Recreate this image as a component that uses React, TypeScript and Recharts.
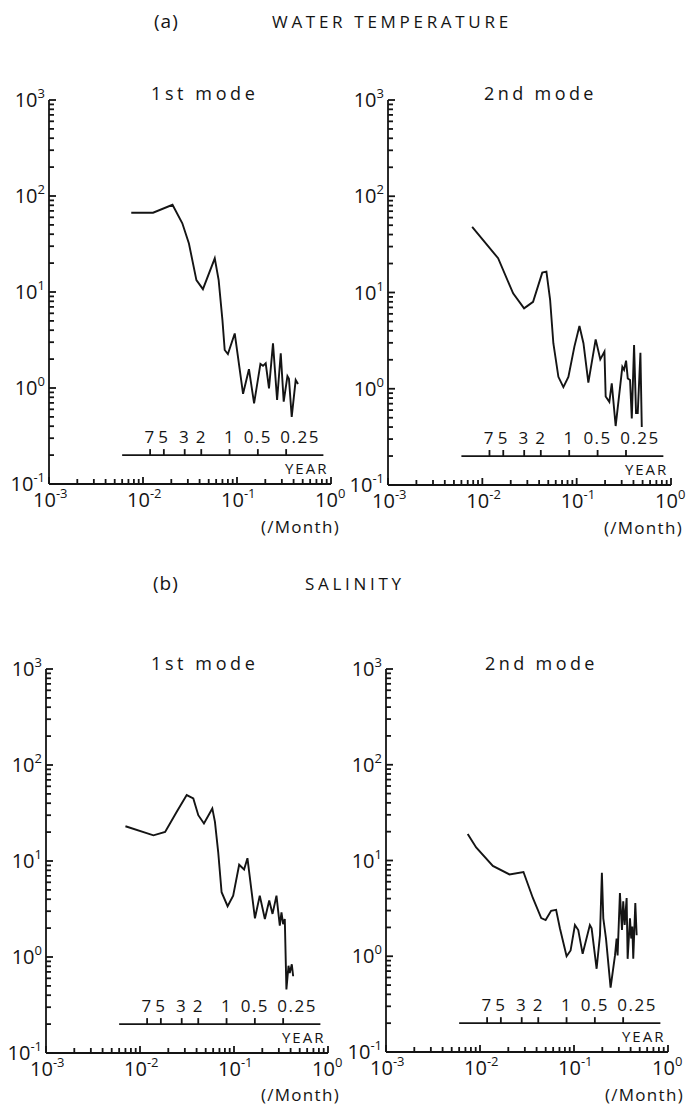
import React from 'react'
import { ComposedChart, Line, Scatter, XAxis, YAxis, ReferenceLine } from 'recharts'

const INK = '#141414'
const FONT = '"Open Sans", "Liberation Sans", sans-serif'

// spectra: frequency (/month) vs spectral density
const tempMode1Freq = [0.0075, 0.0128, 0.0206, 0.0262, 0.0308, 0.037, 0.0434, 0.058, 0.0638, 0.07, 0.074, 0.08, 0.0946, 0.116, 0.134, 0.152, 0.1775, 0.189, 0.202, 0.219, 0.2415, 0.267, 0.292, 0.314, 0.344, 0.357, 0.382, 0.421, 0.446]
const tempMode1Power = [67, 67, 81, 52, 32, 13.3, 10.7, 22.4, 13.3, 5.1, 2.49, 2.26, 3.7, 0.87, 1.57, 0.69, 1.78, 1.7, 1.81, 0.99, 2.92, 0.75, 2.3, 0.72, 1.33, 1.25, 0.5, 1.21, 1.1]

const tempMode2Freq = [0.0078, 0.0147, 0.0212, 0.0277, 0.0345, 0.0432, 0.0478, 0.0523, 0.0566, 0.064, 0.0723, 0.0817, 0.0946, 0.107, 0.118, 0.133, 0.159, 0.178, 0.197, 0.203, 0.222, 0.2355, 0.259, 0.305, 0.318, 0.334, 0.348, 0.368, 0.384, 0.406, 0.426, 0.444, 0.474, 0.49]
const tempMode2Power = [48, 22.7, 9.8, 6.85, 8.0, 16.1, 16.5, 8.4, 2.97, 1.33, 1.04, 1.33, 2.74, 4.49, 2.97, 1.16, 3.26, 2.02, 2.43, 0.83, 0.73, 1.14, 0.41, 1.69, 1.57, 1.96, 1.28, 1.23, 0.49, 2.85, 0.56, 0.56, 2.37, 0.4]

const salMode1Freq = [0.007, 0.0139, 0.0185, 0.0246, 0.0314, 0.0369, 0.0417, 0.0479, 0.0588, 0.0627, 0.0679, 0.0738, 0.0855, 0.098, 0.1135, 0.128, 0.139, 0.167, 0.188, 0.213, 0.237, 0.257, 0.283, 0.307, 0.32, 0.333, 0.347, 0.361, 0.38, 0.392, 0.412, 0.426]
const salMode1Power = [23, 18.5, 20.1, 32.6, 48.6, 44.9, 30, 24.6, 35.3, 25.6, 12.4, 4.73, 3.38, 4.36, 9.15, 8.17, 10.7, 2.53, 4.36, 2.49, 3.87, 2.81, 4.36, 2.12, 2.92, 2.2, 2.49, 0.46, 0.81, 0.68, 0.84, 0.63]

const salMode2Freq = [0.0074, 0.0091, 0.0137, 0.0206, 0.029, 0.0365, 0.0448, 0.0499, 0.0571, 0.0645, 0.0708, 0.0834, 0.092, 0.1023, 0.111, 0.1236, 0.1475, 0.154, 0.174, 0.189, 0.198, 0.205, 0.219, 0.245, 0.273, 0.284, 0.291, 0.308, 0.324, 0.334, 0.346, 0.363, 0.372, 0.394, 0.406, 0.417, 0.427, 0.449, 0.464]
const salMode2Power = [18.9, 13.7, 8.77, 7.15, 7.58, 4.06, 2.5, 2.39, 2.98, 3.05, 1.96, 1.0, 1.15, 2.12, 1.88, 1.06, 2.12, 1.96, 0.74, 1.66, 7.45, 2.49, 1.53, 0.47, 1.02, 1.53, 1.02, 4.58, 1.88, 3.74, 2.12, 4.06, 0.94, 2.49, 1.53, 2.04, 0.94, 3.59, 1.66]

// axes: decades get a label, steps 2..9 only a short mark
const xDecades = [-3, -2, -1, 0]
const yDecades = [-1, 0, 1, 2, 3]
const minorSteps = [2, 3, 4, 5, 6, 7, 8, 9]

// period scale drawn inside each panel
const yearPeriods = [7, 5, 3, 2, 1, 0.5, 0.25]
const yearLabels = ['7', '5', '3', '2', '1', '0.5', '0.25']
const yearLineLevel = 0.2
const yearLineSpan = [0.006, 0.83]

const logTicks = (decades: number[]) => {
  const out: number[] = []
  decades.forEach((d, i) => {
    out.push(Math.pow(10, d))
    if (i < decades.length - 1) minorSteps.forEach(m => out.push(m * Math.pow(10, d)))
  })
  return out
}
const xTicks = logTicks(xDecades)
const yTicks = logTicks(yDecades)

const decadeOf = (v: number) => {
  const e = Math.round(Math.log10(v))
  return Math.abs(Math.log10(v) - e) < 1e-6 ? e : null
}

const XTick = ({ x, y, payload }: any) => {
  const e = decadeOf(payload.value)
  return (
    <g>
      <line x1={x} x2={x} y1={y} y2={y - (e === null ? 5 : 7)} stroke={INK} strokeWidth={1.8} />
      {e !== null && (
        <text x={x - 16} y={y + 23} fontSize={20} fill={INK} fontFamily={FONT}>
          10<tspan dy={-9} fontSize={13}>{String(e)}</tspan>
        </text>
      )}
    </g>
  )
}

const YTick = ({ x, y, payload }: any) => {
  const e = decadeOf(payload.value)
  return (
    <g>
      <line x1={x} x2={x + (e === null ? 5 : 7)} y1={y} y2={y} stroke={INK} strokeWidth={1.8} />
      {e !== null && (
        <text x={x - 4} y={y + 7} fontSize={20} fill={INK} fontFamily={FONT} textAnchor="end">
          10<tspan dy={-9} fontSize={13}>{String(e)}</tspan>
        </text>
      )}
    </g>
  )
}

const YearTick = (props: any) => {
  const { cx, cy, payload } = props
  const shift = payload.label === '0.25' ? 14 : 0
  return (
    <g>
      <line x1={cx} x2={cx} y1={cy} y2={cy - 6} stroke={INK} strokeWidth={1.8} />
      <text x={cx + shift} y={cy - 12} fontSize={17} letterSpacing={1.5} fill={INK} fontFamily={FONT} textAnchor="middle">
        {payload.label}
      </text>
    </g>
  )
}

const YearCaption = (props: any) => (
  <text x={props.cx + 5} y={props.cy + 19} fontSize={15} letterSpacing={2} fill={INK} fontFamily={FONT} textAnchor="end">
    YEAR
  </text>
)

const yearData = yearPeriods.map((p, i) => ({ f: 1 / (12 * p), v: yearLineLevel, label: yearLabels[i] }))
const yearCaptionData = [{ f: yearLineSpan[1], v: yearLineLevel }]

interface PanelProps {
  freq: number[]
  power: number[]
  left: number
  top: number
  width: number
  height: number
  plot: { l: number; r: number; t: number; b: number }
}

const Panel = ({ freq, power, left, top, width, height, plot }: PanelProps) => {
  const data = freq.map((f, i) => ({ f, v: power[i] }))
  return (
    <div style={{ position: 'absolute', left, top, width, height }}>
      <ComposedChart width={width} height={height} data={data} margin={{ top: plot.t, right: width - plot.r, left: 0, bottom: 0 }}>
        <XAxis
          dataKey="f" type="number" scale="log" domain={[0.001, 1]}
          ticks={xTicks} interval={0} tick={<XTick />} tickLine={false} tickSize={0} tickMargin={0}
          axisLine={{ stroke: INK, strokeWidth: 1.8 }} height={height - plot.b}
        />
        <YAxis
          dataKey="v" type="number" scale="log" domain={[0.1, 1000]}
          ticks={yTicks} interval={0} tick={<YTick />} tickLine={false} tickSize={0} tickMargin={0}
          axisLine={{ stroke: INK, strokeWidth: 1.8 }} width={plot.l}
        />
        <ReferenceLine
          segment={[{ x: yearLineSpan[0], y: yearLineLevel }, { x: yearLineSpan[1], y: yearLineLevel }]}
          stroke={INK} strokeWidth={1.7} ifOverflow="visible"
        />
        <Scatter data={yearData} shape={YearTick} isAnimationActive={false} />
        <Scatter data={yearCaptionData} shape={YearCaption} isAnimationActive={false} />
        <Line type="linear" dataKey="v" stroke={INK} strokeWidth={1.9} dot={false} isAnimationActive={false} />
      </ComposedChart>
    </div>
  )
}

const Label = ({ x, y, size, spacing, anchor, children }: any) => (
  <text x={x} y={y} fontSize={size} letterSpacing={spacing} textAnchor={anchor || 'start'} fill={INK} fontFamily={FONT}>
    {children}
  </text>
)

const App = () => (
  <div style={{ position: 'absolute', left: 0, top: 0, width: 686, height: 1107, background: '#fff' }}>
    <svg width={686} height={1107} style={{ position: 'absolute', left: 0, top: 0 }}>
      <Label x={154} y={28} size={19} spacing={1}>(a)</Label>
      <Label x={272} y={28} size={17} spacing={3.7}>WATER TEMPERATURE</Label>
      <Label x={153} y={590} size={19} spacing={1}>(b)</Label>
      <Label x={305} y={590} size={17} spacing={3.7}>SALINITY</Label>
      <Label x={151} y={100} size={18} spacing={3.6}>1st mode</Label>
      <Label x={484} y={100} size={18} spacing={3.4}>2nd mode</Label>
      <Label x={151} y={670} size={18} spacing={3.6}>1st mode</Label>
      <Label x={485} y={670} size={18} spacing={3.4}>2nd mode</Label>
      <Label x={340} y={533} size={17} spacing={1.3} anchor="end">(/Month)</Label>
      <Label x={683} y={534} size={17} spacing={1.3} anchor="end">(/Month)</Label>
      <Label x={340} y={1101} size={17} spacing={1.3} anchor="end">(/Month)</Label>
      <Label x={684} y={1101} size={17} spacing={1.3} anchor="end">(/Month)</Label>
    </svg>
    <Panel freq={tempMode1Freq} power={tempMode1Power} left={0} top={0} width={352} height={530} plot={{ l: 49, r: 331, t: 100, b: 484 }} />
    <Panel freq={tempMode2Freq} power={tempMode2Power} left={343} top={0} width={343} height={530} plot={{ l: 45, r: 328, t: 100, b: 485 }} />
    <Panel freq={salMode1Freq} power={salMode1Power} left={0} top={560} width={352} height={545} plot={{ l: 46, r: 328, t: 109, b: 493 }} />
    <Panel freq={salMode2Freq} power={salMode2Power} left={343} top={560} width={343} height={545} plot={{ l: 43, r: 325, t: 109, b: 492 }} />
  </div>
)

export default App
